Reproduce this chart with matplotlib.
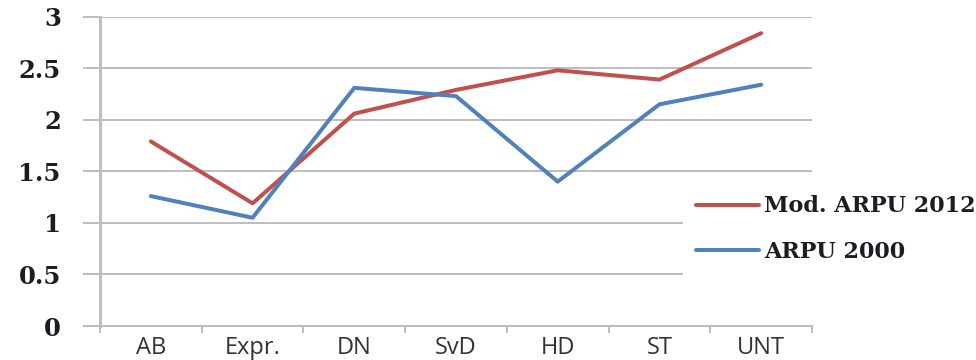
import matplotlib
matplotlib.use("Agg")
import matplotlib.pyplot as plt
import numpy as np

# data
papers = ["AB", "Expr.", "DN", "SvD", "HD", "ST", "UNT"]
arpu_2012 = [1.79, 1.19, 2.06, 2.29, 2.48, 2.39, 2.84]
arpu_2000 = [1.26, 1.05, 2.31, 2.23, 1.40, 2.15, 2.34]
y_ticks = [0, 0.5, 1, 1.5, 2, 2.5, 3]
y_tick_labels = ["0", "0.5", "1", "1.5", "2", "2.5", "3"]

red = "#C0504D"
blue = "#4F81BD"
grid_col = "#BEBEBE"
px = 0.72  # points per pixel at dpi 100

fig = plt.figure(figsize=(9.76, 3.6), dpi=100)
ax = fig.add_axes([100 / 976, (360 - 326) / 360, (812 - 100) / 976, (326 - 16.7) / 360])

x = np.arange(len(papers))
ax.plot(x, arpu_2012, color=red, lw=4 * px, label="Mod. ARPU 2012", solid_capstyle="round")
ax.plot(x, arpu_2000, color=blue, lw=4 * px, label="ARPU 2000", solid_capstyle="round")

ax.set_xlim(-0.5, len(papers) - 0.5)
ax.set_ylim(0, 3)

# gridlines + outward y ticks like the old excel style
ax.set_yticks(y_ticks)
ax.set_yticklabels(y_tick_labels, family="DejaVu Serif", fontweight="bold",
                   fontsize=17.5, color="#1c1c24")
ax.yaxis.grid(True, color=grid_col, lw=2 * px)
ax.tick_params(axis="y", length=17 * px, width=2 * px, color=grid_col, pad=16)
ax.set_axisbelow(True)

ax.set_xticks(x)
ax.set_xticklabels(papers, family="Open Sans", fontsize=17, color="#333333")
ax.set_xticks(np.arange(-0.5, len(papers)), minor=True)
ax.tick_params(axis="x", which="major", length=0, pad=7)
ax.tick_params(axis="x", which="minor", length=7 * px, width=2 * px, color=grid_col)

for side in ["top", "right"]:
    ax.spines[side].set_visible(False)
ax.spines["left"].set_color(grid_col)
ax.spines["left"].set_linewidth(3 * px)
ax.spines["bottom"].set_color(grid_col)
ax.spines["bottom"].set_linewidth(2 * px)

leg = ax.legend(loc="center left", bbox_to_anchor=(683 / 976, 1 - 229 / 360),
                bbox_transform=fig.transFigure, frameon=True, facecolor="white",
                edgecolor="none", framealpha=1, fancybox=False,
                prop={"family": "DejaVu Serif", "weight": "bold", "size": 16},
                handlelength=2.8, handletextpad=0.25, labelspacing=1.05,
                borderpad=0.6, borderaxespad=0)
for t in leg.get_texts():
    t.set_color("#1c1c24")

fig.savefig("out.png", dpi=100)
